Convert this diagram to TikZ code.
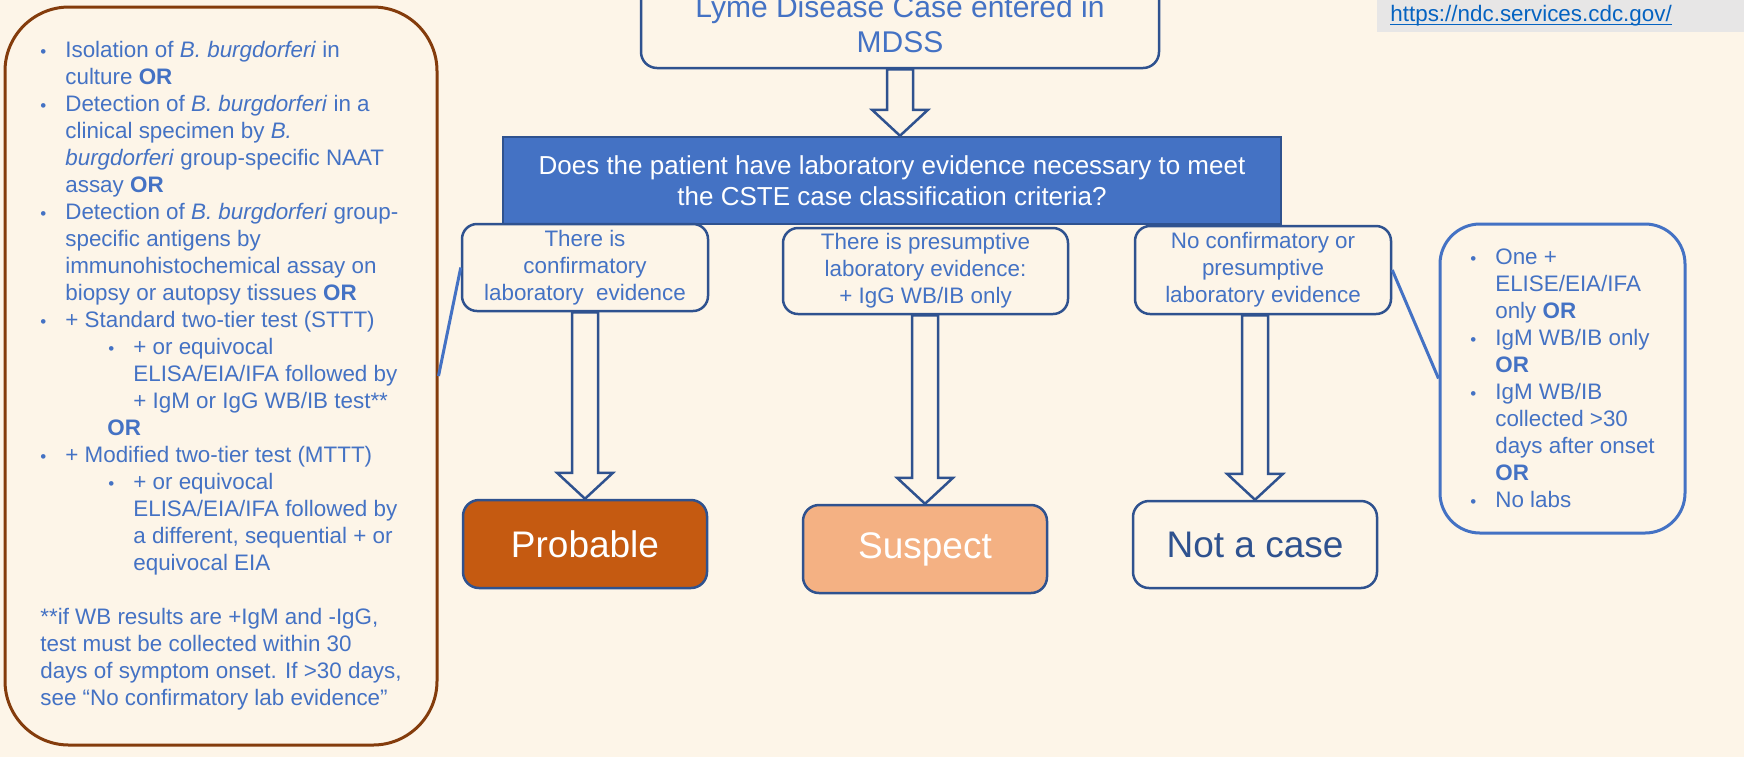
\documentclass[tikz,border=0pt]{standalone}
\usepackage{fontspec}
\setmainfont{Liberation Sans}
\usetikzlibrary{calc,positioning}

\definecolor{bgcream}{RGB}{253,245,232}
\definecolor{boxline}{RGB}{47,82,143}
\definecolor{accentblue}{RGB}{68,114,196}
\definecolor{probfill}{RGB}{197,90,17}
\definecolor{suspfill}{RGB}{244,177,131}
\definecolor{brownline}{RGB}{132,60,12}
\definecolor{linkgray}{RGB}{231,230,230}
\definecolor{linkblue}{RGB}{5,99,193}

\newcommand{\bodyfs}{\fontsize{11.2}{13.5}\selectfont}
\newcommand{\bulletsym}{{\fontsize{8.5}{8.5}\selectfont\textbullet}}
\newcommand{\bulA}{\makebox[3pt][c]{\bulletsym}\hspace*{9.5pt}}
\newcommand{\indA}{\hspace*{12.5pt}}
\newcommand{\bulB}{\hspace*{34pt}\makebox[3pt][c]{\bulletsym}\hspace*{9.5pt}}
\newcommand{\indB}{\hspace*{46.5pt}}
\newcommand{\indO}{\hspace*{33.5pt}}
\newcommand{\bb}{\textit{B. burgdorferi}}

% block arrow from the bottom of one box down to the top of the next
\newcommand{\hollowarrow}[2]{%
  \draw[hollow] let \p1=(#1), \p2=(#2) in
    (\x2-6.5pt,\y1) -- (\x2-6.5pt,\y2+13pt) -- (\x2-14pt,\y2+13pt) -- (\x2,\y2)
    -- (\x2+14pt,\y2+13pt) -- (\x2+6.5pt,\y2+13pt) -- (\x2+6.5pt,\y1) -- cycle;}

\begin{document}
\begin{tikzpicture}[x=0.5pt,y=-0.5pt,
    every node/.style={font=\bodyfs, text=accentblue, inner sep=0pt},
    stepbox/.style={draw=boxline, fill=bgcream, line width=1.25pt, rounded corners=7.5pt, align=center},
    resultbox/.style={stepbox, rounded corners=8pt, font=\fontsize{18.5}{22}\selectfont,
        minimum width=122pt, minimum height=44pt},
    notebox/.style={fill=bgcream, line width=1.5pt, align=left},
    hollow/.style={draw=boxline, fill=bgcream, line width=1.25pt, line join=miter},
    callout/.style={draw=accentblue, line width=1.5pt}]

    \useasboundingbox (0,0) rectangle (1744,757);
    \clip (0,0) rectangle (1744,757);
    \fill[bgcream] (0,0) rectangle (1744,757);

    % link in the corner
    \fill[linkgray] (1377,-5) rectangle (1744,32);
    \node[anchor=base west, text=linkblue] (cdclink) at (1390,21) {https://ndc.services.cdc.gov/};
    \draw[linkblue, line width=0.7pt] ([yshift=-1.6pt]cdclink.base west) -- ([yshift=-1.6pt]cdclink.base east);

    % flow
    \node[stepbox, rounded corners=8pt, font=\fontsize{15}{17.5}\selectfont,
        minimum width=259pt, minimum height=43.5pt] (mdss) at (900,24.5)
        {Lyme Disease Case entered in\\MDSS};
    \node[draw=boxline, fill=accentblue, line width=1.25pt, text=white, align=center,
        font=\fontsize{13}{15.8}\selectfont,
        minimum width=389pt, minimum height=43.5pt] (question) at (892,180.5)
        {Does the patient have laboratory evidence necessary to meet\\the CSTE case classification criteria?};

    \node[stepbox, minimum width=123pt, minimum height=43.5pt] (confirm) at (585,267.5)
        {There is\\confirmatory\\laboratory~ evidence};
    \node[stepbox, minimum width=142.5pt, minimum height=43pt] (presume) at (925.5,271)
        {There is presumptive\\laboratory evidence:\\+ IgG WB/IB only};
    \node[stepbox, minimum width=128pt, minimum height=44pt] (noevid) at (1263,270)
        {No confirmatory or\\presumptive\\laboratory evidence};

    \node[resultbox, fill=probfill, text=white] (probable) at (585,544) {Probable};
    \node[resultbox, fill=suspfill, text=white] (suspect) at (925,549) {Suspect};
    \node[resultbox, text=boxline, minimum height=43.5pt] (notcase) at (1255,544.5) {Not a case};

    \hollowarrow{mdss.south}{question.north -| mdss.south}
    \hollowarrow{confirm.south}{probable.north}
    \hollowarrow{presume.south}{suspect.north}
    \hollowarrow{noevid.south}{notcase.north}

    % criteria notes
    \node[notebox, draw=brownline, rounded corners=32pt,
        minimum width=216pt, minimum height=369pt] (labbox) at (221,376) {%
        \bulA Isolation of \bb{} in\\
        \indA culture \textbf{OR}\\
        \bulA Detection of \bb{} in a\\
        \indA clinical specimen by \textit{B.}\\
        \indA \textit{burgdorferi} group-specific NAAT\\
        \indA assay \textbf{OR}\\
        \bulA Detection of \bb{} group-\\
        \indA specific antigens by\\
        \indA immunohistochemical assay on\\
        \indA biopsy or autopsy tissues \textbf{OR}\\
        \bulA + Standard two-tier test (STTT)\\
        \bulB + or equivocal\\
        \indB ELISA/EIA/IFA followed by\\
        \indB + IgM or IgG WB/IB test**\\
        \indO \textbf{OR}\\
        \bulA + Modified two-tier test (MTTT)\\
        \bulB + or equivocal\\
        \indB ELISA/EIA/IFA followed by\\
        \indB a different, sequential + or\\
        \indB equivocal EIA\\[13.5pt]
        **if WB results are +IgM and -IgG,\\
        test must be collected within 30\\
        days of symptom onset. If >30 days,\\
        see “No confirmatory lab evidence”};

    \node[notebox, draw=accentblue, rounded corners=20pt,
        minimum width=122.5pt, minimum height=154.5pt] (otherbox) at (1562.5,378.5) {%
        \bulA One +\\
        \indA ELISE/EIA/IFA\\
        \indA only \textbf{OR}\\
        \bulA IgM WB/IB only\\
        \indA \textbf{OR}\\
        \bulA IgM WB/IB\\
        \indA collected >30\\
        \indA days after onset\\
        \indA \textbf{OR}\\
        \bulA No labs};

    \draw[callout] (labbox.east) -- (confirm.west);
    \draw[callout] (noevid.east) -- (otherbox.west);
\end{tikzpicture}
\end{document}
